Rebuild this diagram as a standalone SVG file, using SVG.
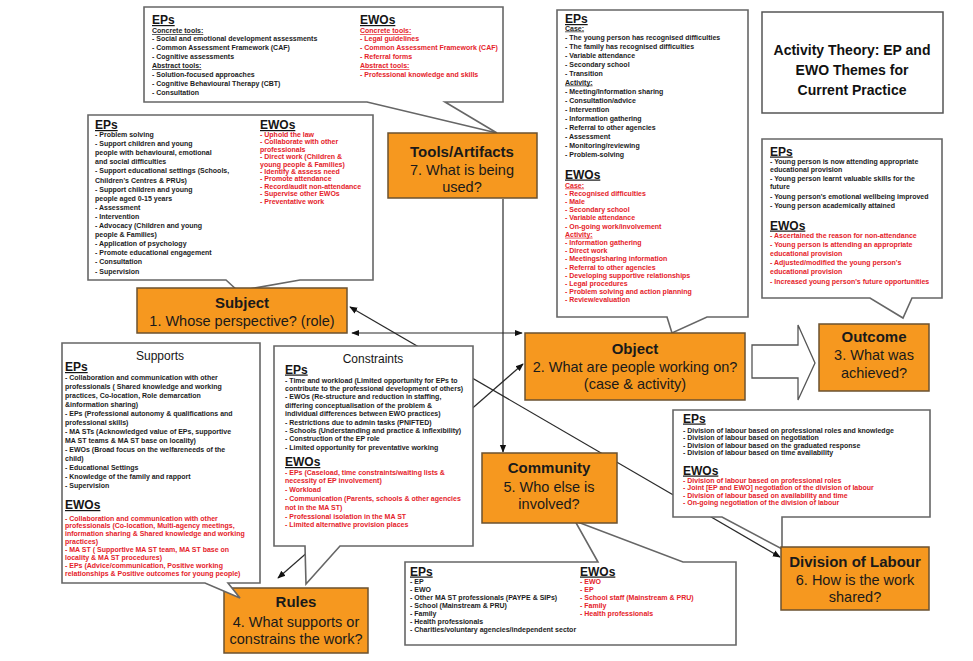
<svg xmlns="http://www.w3.org/2000/svg" width="973" height="661" viewBox="0 0 973 661">
  <defs>
    <marker id="ah" viewBox="0 0 10 10" refX="9" refY="5" markerWidth="8" markerHeight="8" markerUnits="userSpaceOnUse" orient="auto-start-reverse">
      <path d="M0,1 L10,5 L0,9 Z" fill="#111"/>
    </marker>
    <style>
      text { font-family: "Liberation Sans", Arial, sans-serif; }
      .t { font-size: 7px; font-weight: bold; fill: #1c1c1c; }
      .r { fill: #e5222a; }
      .u { text-decoration: underline; }
      .h { font-size: 12px; font-weight: bold; fill: #151515; text-decoration: underline; }
      .hd { font-size: 12px; fill: #151515; text-anchor: middle; }
      .call { fill: #ffffff; stroke: #666666; stroke-width: 1.6; }
      .box { fill: #f6981f; stroke: #6b5230; stroke-width: 1.5; }
      .lt { font-size: 15px; font-weight: bold; fill: #1a1a1a; text-anchor: middle; }
      .lq { font-size: 14.5px; fill: #1a1a1a; text-anchor: middle; }
      .ln { stroke: #2a2a2a; stroke-width: 1.2; fill: none; }
      .title { font-size: 14px; font-weight: bold; fill: #111; text-anchor: middle; }
    </style>
  </defs>

  <rect width="973" height="661" fill="#ffffff"/>

  <!-- connectors between the activity-system elements -->
  <g id="connectors">
    <line class="ln" x1="352" y1="333" x2="522" y2="333" marker-start="url(#ah)" marker-end="url(#ah)"/>
    <line class="ln" x1="350" y1="307" x2="780" y2="557" marker-start="url(#ah)" marker-end="url(#ah)"/>
    <line class="ln" x1="278" y1="578" x2="523" y2="364" marker-start="url(#ah)" marker-end="url(#ah)"/>
    <line class="ln" x1="503" y1="199" x2="503" y2="452" marker-end="url(#ah)"/>
    <!-- hollow block arrow Object -> Outcome -->
    <polygon points="752,345 798,345 798,325 815,363 798,400 798,378 752,378" fill="#ffffff" stroke="#555555" stroke-width="1.3"/>
  </g>

  <!-- title -->
  <g id="title">
    <rect x="762" y="12" width="181" height="101" fill="#ffffff" stroke="#555555" stroke-width="1.5"/>
    <text class="title" x="852" y="55">Activity Theory: EP and</text>
    <text class="title" x="852" y="75">EWO Themes for</text>
    <text class="title" x="852" y="95">Current Practice</text>
  </g>

  <!-- tools notes -->
  <g id="tools-notes">
    <path class="call" d="M144,7 H503 V102 H445 L497,133 L367,102 H144 Z"/>
    <text class="h" x="152" y="24">EPs</text>
    <text class="t u" x="152" y="33">Concrete tools:</text>
    <text class="t" x="152" y="41">- Social and emotional development assessments</text>
    <text class="t" x="152" y="50">- Common Assessment Framework (CAF)</text>
    <text class="t" x="152" y="59">- Cognitive assessments</text>
    <text class="t u" x="152" y="68">Abstract tools:</text>
    <text class="t" x="152" y="77">- Solution-focused approaches</text>
    <text class="t" x="152" y="86">- Cognitive Behavioural Therapy (CBT)</text>
    <text class="t" x="152" y="95">- Consultation</text>
    <text class="h r" x="360" y="24">EWOs</text>
    <text class="t r u" x="360" y="33">Concrete tools:</text>
    <text class="t r" x="360" y="41">- Legal guidelines</text>
    <text class="t r" x="360" y="50">- Common Assessment Framework (CAF)</text>
    <text class="t r" x="360" y="59">- Referral forms</text>
    <text class="t r u" x="360" y="68">Abstract tools:</text>
    <text class="t r" x="360" y="77">- Professional knowledge and skills</text>
  </g>

  <!-- subject notes -->
  <g id="subject-notes">
    <path class="call" d="M88,115 H373 V280 H300 L238,291 L226,280 H88 Z"/>
    <text class="h" x="95" y="129">EPs</text>
    <text class="t" x="95" y="137">- Problem solving</text>
    <text class="t" x="95" y="146.1">- Support children and young</text>
    <text class="t" x="95" y="155.2">people with behavioural, emotional</text>
    <text class="t" x="95" y="164.3">and social difficulties</text>
    <text class="t" x="95" y="173.4">- Support educational settings (Schools,</text>
    <text class="t" x="95" y="182.5">Children's Centres &amp; PRUs)</text>
    <text class="t" x="95" y="191.6">- Support children and young</text>
    <text class="t" x="95" y="200.7">people aged 0-15 years</text>
    <text class="t" x="95" y="209.8">- Assessment</text>
    <text class="t" x="95" y="218.9">- Intervention</text>
    <text class="t" x="95" y="228">- Advocacy (Children and young</text>
    <text class="t" x="95" y="237.1">people &amp; Families)</text>
    <text class="t" x="95" y="246.2">- Application of psychology</text>
    <text class="t" x="95" y="255.3">- Promote educational engagement</text>
    <text class="t" x="95" y="264.4">- Consultation</text>
    <text class="t" x="95" y="273.5">- Supervision</text>
    <text class="h r" x="260" y="129">EWOs</text>
    <text class="t r" x="260" y="137">- Uphold the law</text>
    <text class="t r" x="260" y="144.4">- Collaborate with other</text>
    <text class="t r" x="260" y="151.8">professionals</text>
    <text class="t r" x="260" y="159.2">- Direct work (Children &amp;</text>
    <text class="t r" x="260" y="166.6">young people &amp; Families)</text>
    <text class="t r" x="260" y="174">- Identify &amp; assess need</text>
    <text class="t r" x="260" y="181.4">- Promote attendance</text>
    <text class="t r" x="260" y="188.8">- Record/audit non-attendance</text>
    <text class="t r" x="260" y="196.2">- Supervise other EWOs</text>
    <text class="t r" x="260" y="203.6">- Preventative work</text>
  </g>

  <!-- object notes -->
  <g id="object-notes">
    <path class="call" d="M557,10 H748 V317 H707 L672,333 L667,317 H557 Z"/>
    <text class="h" x="565" y="23">EPs</text>
    <text class="t u" x="565" y="30.5">Case:</text>
    <text class="t" x="565" y="39.5">- The young person has recognised difficulties</text>
    <text class="t" x="565" y="48.5">- The family has recognised difficulties</text>
    <text class="t" x="565" y="57.5">- Variable attendance</text>
    <text class="t" x="565" y="66.5">- Secondary school</text>
    <text class="t" x="565" y="75.5">- Transition</text>
    <text class="t u" x="565" y="84.5">Activity:</text>
    <text class="t" x="565" y="93.5">- Meeting/Information sharing</text>
    <text class="t" x="565" y="102.5">- Consultation/advice</text>
    <text class="t" x="565" y="111.5">- Intervention</text>
    <text class="t" x="565" y="120.5">- Information gathering</text>
    <text class="t" x="565" y="129.5">- Referral to other agencies</text>
    <text class="t" x="565" y="138.5">- Assessment</text>
    <text class="t" x="565" y="147.5">- Monitoring/reviewing</text>
    <text class="t" x="565" y="156.5">- Problem-solving</text>
    <text class="h r" x="565" y="178.5">EWOs</text>
    <text class="t r u" x="565" y="187.5">Case:</text>
    <text class="t r" x="565" y="195.7">- Recognised difficulties</text>
    <text class="t r" x="565" y="203.9">- Male</text>
    <text class="t r" x="565" y="212.1">- Secondary school</text>
    <text class="t r" x="565" y="220.3">- Variable attendance</text>
    <text class="t r" x="565" y="228.5">- On-going work/involvement</text>
    <text class="t r u" x="565" y="236.7">Activity:</text>
    <text class="t r" x="565" y="244.9">- Information gathering</text>
    <text class="t r" x="565" y="253.1">- Direct work</text>
    <text class="t r" x="565" y="261.3">- Meetings/sharing information</text>
    <text class="t r" x="565" y="269.5">- Referral to other agencies</text>
    <text class="t r" x="565" y="277.7">- Developing supportive relationships</text>
    <text class="t r" x="565" y="285.9">- Legal procedures</text>
    <text class="t r" x="565" y="294.1">- Problem solving and action planning</text>
    <text class="t r" x="565" y="302.3">- Review/evaluation</text>
  </g>

  <!-- outcome notes -->
  <g id="outcome-notes">
    <path class="call" d="M762,139 H942 V298 H912 L903,318 L870,298 H762 Z"/>
    <text class="h" x="770" y="155.5">EPs</text>
    <text class="t" x="770" y="163.5">- Young person is now attending appropriate</text>
    <text class="t" x="770" y="171.5">educational provision</text>
    <text class="t" x="770" y="180.5">- Young person learnt valuable skills for the</text>
    <text class="t" x="770" y="188.5">future</text>
    <text class="t" x="770" y="199">- Young person's emotional wellbeing improved</text>
    <text class="t" x="770" y="207.5">- Young person academically attained</text>
    <text class="h r" x="770" y="229.5">EWOs</text>
    <text class="t r" x="770" y="237.5">- Ascertained the reason for non-attendance</text>
    <text class="t r" x="770" y="246.5">- Young person is attending an appropriate</text>
    <text class="t r" x="770" y="255.5">educational provision</text>
    <text class="t r" x="770" y="264.5">- Adjusted/modified the young person's</text>
    <text class="t r" x="770" y="273.5">educational provision</text>
    <text class="t r" x="770" y="283.5">- Increased young person's future opportunities</text>
  </g>

  <!-- rules node (drawn before the notes whose tails reach it) -->
  <g id="rules">
    <rect class="box" x="224" y="588" width="144" height="65"/>
    <text class="lt" x="296" y="607">Rules</text>
    <text class="lq" x="296" y="627">4. What supports or</text>
    <text class="lq" x="296" y="644">constrains the work?</text>
  </g>

  <!-- supports notes -->
  <g id="supports-notes">
    <path class="call" d="M62,343 H260 V583 H228 L240,598 L205,583 H62 Z"/>
    <text class="hd" x="160" y="359.5">Supports</text>
    <text class="h" x="65" y="371">EPs</text>
    <text class="t" x="65" y="379.5">- Collaboration and communication with other</text>
    <text class="t" x="65" y="388.5">professionals ( Shared knowledge and working</text>
    <text class="t" x="65" y="397.5">practices, Co-location, Role demarcation</text>
    <text class="t" x="65" y="406.5">&amp;information sharing)</text>
    <text class="t" x="65" y="415.5">- EPs (Professional autonomy &amp; qualifications and</text>
    <text class="t" x="65" y="424.5">professional skills)</text>
    <text class="t" x="65" y="433.5">- MA STs (Acknowledged value of EPs, supportive</text>
    <text class="t" x="65" y="442.5">MA ST teams &amp; MA ST base on locality)</text>
    <text class="t" x="65" y="451.5">- EWOs (Broad focus on the welfareneeds of the</text>
    <text class="t" x="65" y="460.5">child)</text>
    <text class="t" x="65" y="469.5">- Educational Settings</text>
    <text class="t" x="65" y="478.5">- Knowledge of the family and rapport</text>
    <text class="t" x="65" y="487.5">- Supervision</text>
    <text class="h r" x="65" y="509">EWOs</text>
    <text class="t r" x="65" y="520.5">- Collaboration and communication with other</text>
    <text class="t r" x="65" y="528.4">professionals (Co-location, Multi-agency meetings,</text>
    <text class="t r" x="65" y="536.3">information sharing &amp; Shared knowledge and working</text>
    <text class="t r" x="65" y="544.2">practices)</text>
    <text class="t r" x="65" y="552.1">- MA ST ( Supportive MA ST team, MA ST base on</text>
    <text class="t r" x="65" y="560">locality &amp; MA ST procedures)</text>
    <text class="t r" x="65" y="567.9">- EPs (Advice/communication, Positive working</text>
    <text class="t r" x="65" y="575.8">relationships &amp; Positive outcomes for young people)</text>
  </g>

  <!-- constraints notes -->
  <g id="constraints-notes">
    <path class="call" d="M274,346 H473 V546 H340 L306,584 L305,546 H274 Z"/>
    <text class="hd" x="373" y="362.5">Constraints</text>
    <text class="h" x="285" y="373.5">EPs</text>
    <text class="t" x="285" y="382.5">- Time and workload (Limited opportunity for EPs to</text>
    <text class="t" x="285" y="390.9">contribute to the professional development of others)</text>
    <text class="t" x="285" y="399.3">- EWOs (Re-structure and reduction in staffing,</text>
    <text class="t" x="285" y="407.7">differing conceptualisation of the problem &amp;</text>
    <text class="t" x="285" y="416.1">individual differences between EWO practices)</text>
    <text class="t" x="285" y="424.5">- Restrictions due to admin tasks (PNIFTED)</text>
    <text class="t" x="285" y="432.9">- Schools (Understanding and practice &amp; inflexibility)</text>
    <text class="t" x="285" y="441.3">- Construction of the EP role</text>
    <text class="t" x="285" y="449.7">- Limited opportunity for preventative working</text>
    <text class="h r" x="285" y="466">EWOs</text>
    <text class="t r" x="285" y="474.5">- EPs (Caseload, time constraints/waiting lists &amp;</text>
    <text class="t r" x="285" y="483.3">necessity of EP involvement)</text>
    <text class="t r" x="285" y="492.1">- Workload</text>
    <text class="t r" x="285" y="500.9">- Communication (Parents, schools &amp; other agencies</text>
    <text class="t r" x="285" y="509.7">not in the MA ST)</text>
    <text class="t r" x="285" y="518.5">- Professional isolation in the MA ST</text>
    <text class="t r" x="285" y="527.3">- Limited alternative provision places</text>
  </g>

  <!-- division of labour notes -->
  <g id="labour-notes">
    <path class="call" d="M673,410 H930 V517 H782 L782,549 L722,517 H673 Z"/>
    <text class="h" x="683" y="422.5">EPs</text>
    <text class="t" x="683" y="432.5">- Division of labour based on professional roles and knowledge</text>
    <text class="t" x="683" y="440">- Division of labour based on negotiation</text>
    <text class="t" x="683" y="447.5">- Division of labour based on the graduated response</text>
    <text class="t" x="683" y="455">- Division of labour based on time availability</text>
    <text class="h r" x="683" y="474.5">EWOs</text>
    <text class="t r" x="683" y="482.5">- Division of labour based on professional roles</text>
    <text class="t r" x="683" y="490">- Joint [EP and EWO] negotiation of the division of labour</text>
    <text class="t r" x="683" y="497.5">- Division of labour based on availability and time</text>
    <text class="t r" x="683" y="505">- On-going negotiation of the division of labour</text>
  </g>

  <!-- community notes -->
  <g id="community-notes">
    <path class="call" d="M405,562 H598 L575,521 L683,562 H736 V645 H405 Z"/>
    <text class="h" x="410" y="575.5">EPs</text>
    <text class="t" x="410" y="583.5">- EP</text>
    <text class="t" x="410" y="591.5">- EWO</text>
    <text class="t" x="410" y="599.5">- Other MA ST professionals (PAYPE &amp; SIPs)</text>
    <text class="t" x="410" y="607.5">- School (Mainstream &amp; PRU)</text>
    <text class="t" x="410" y="615.5">- Family</text>
    <text class="t" x="410" y="623.5">- Health professionals</text>
    <text class="t" x="410" y="631.5">- Charities/voluntary agencies/independent sector</text>
    <text class="h r" x="580" y="575.5">EWOs</text>
    <text class="t r" x="580" y="583.5">- EWO</text>
    <text class="t r" x="580" y="591.5">- EP</text>
    <text class="t r" x="580" y="599.5">- School staff (Mainstream &amp; PRU)</text>
    <text class="t r" x="580" y="607.5">- Family</text>
    <text class="t r" x="580" y="615.5">- Health professionals</text>
  </g>

  <!-- activity-system nodes -->
  <g id="tools">
    <rect class="box" x="388" y="133" width="149" height="65"/>
    <text class="lt" x="462" y="157">Tools/Artifacts</text>
    <text class="lq" x="462" y="175">7. What is being</text>
    <text class="lq" x="462" y="192">used?</text>
  </g>
  <g id="subject">
    <rect class="box" x="137" y="288" width="210" height="45"/>
    <text class="lt" x="242" y="308">Subject</text>
    <text class="lq" x="242" y="326">1. Whose perspective? (role)</text>
  </g>
  <g id="object">
    <rect class="box" x="525" y="333" width="220" height="67"/>
    <text class="lt" x="635" y="354">Object</text>
    <text class="lq" x="635" y="372">2. What are people working on?</text>
    <text class="lq" x="635" y="389">(case &amp; activity)</text>
  </g>
  <g id="outcome">
    <rect class="box" x="819" y="324" width="110" height="67"/>
    <text class="lt" x="874" y="342">Outcome</text>
    <text class="lq" x="874" y="360">3. What was</text>
    <text class="lq" x="874" y="378">achieved?</text>
  </g>
  <g id="community">
    <rect class="box" x="482" y="453" width="135" height="70"/>
    <text class="lt" x="549" y="473">Community</text>
    <text class="lq" x="549" y="492">5. Who else is</text>
    <text class="lq" x="549" y="509">involved?</text>
  </g>
  <g id="division-of-labour">
    <rect class="box" x="781" y="547" width="148" height="63"/>
    <text class="lt" x="855" y="567">Division of Labour</text>
    <text class="lq" x="855" y="585">6. How is the work</text>
    <text class="lq" x="855" y="602">shared?</text>
  </g>
</svg>
